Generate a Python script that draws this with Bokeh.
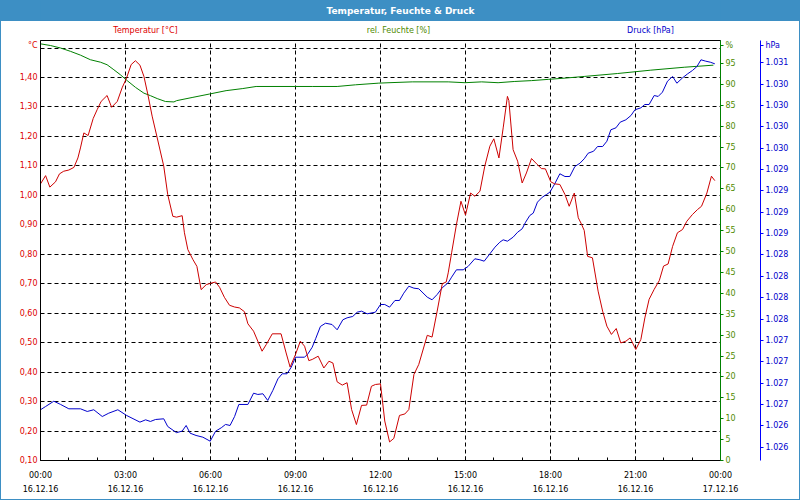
from bokeh.plotting import figure
from bokeh.layouts import column
from bokeh.models import LinearAxis, Range1d, FixedTicker, Label
from bokeh.embed import file_html
from bokeh.resources import INLINE

# ---------------- data ----------------
temp_hours = [0, 0.18, 0.33, 0.53, 0.67, 0.82, 1.0, 1.18, 1.32, 1.41, 1.53, 1.68, 1.86, 2.0, 2.14, 2.35,
              2.51, 2.71, 2.88, 3.04, 3.2, 3.35, 3.51, 3.65, 3.79, 3.94, 4.12, 4.35, 4.49, 4.67, 4.8,
              5.0, 5.08, 5.2, 5.38, 5.52, 5.67, 5.85, 6.02, 6.18, 6.32, 6.49, 6.67, 6.85, 7.02, 7.2,
              7.32, 7.52, 7.67, 7.82, 7.97, 8.18, 8.49, 8.67, 8.81, 9.0, 9.17, 9.32, 9.47,
              9.59, 9.8, 10.0, 10.18, 10.32, 10.47, 10.65, 10.82, 10.98, 11.15, 11.33, 11.51, 11.68,
              11.82, 12.0, 12.15, 12.32, 12.47, 12.67, 12.86, 13.0, 13.18, 13.35, 13.65, 13.82, 14.0,
              14.18, 14.32, 14.39, 14.51, 14.68, 14.84, 15.0, 15.18, 15.33, 15.51, 15.68, 15.86, 16.0,
              16.18, 16.33, 16.48, 16.53, 16.68, 16.84, 17.0, 17.15, 17.33, 17.51, 17.68, 17.82, 18.01,
              18.15, 18.33, 18.51, 18.66, 18.84, 18.98, 19.09, 19.19, 19.31, 19.48, 19.68, 19.84, 19.99,
              20.15, 20.32, 20.48, 20.66, 20.81, 21.01, 21.19, 21.33, 21.48, 21.66, 21.84, 21.99, 22.15,
              22.31, 22.48, 22.66, 22.81, 23.01, 23.19, 23.33, 23.52, 23.68, 23.8]
temp_values = [1.039, 1.067, 1.028, 1.046, 1.073, 1.082, 1.086, 1.095, 1.127, 1.161, 1.212, 1.203, 1.261,
               1.291, 1.319, 1.339, 1.299, 1.319, 1.365, 1.399, 1.444, 1.457, 1.442, 1.404, 1.342, 1.269,
               1.195, 1.099, 1.003, 0.929, 0.926,
               0.931, 0.873, 0.816, 0.782, 0.759, 0.680, 0.697, 0.702, 0.706, 0.688, 0.654, 0.627, 0.621,
               0.618, 0.605, 0.564, 0.539, 0.505, 0.471, 0.494, 0.530, 0.530, 0.465, 0.417, 0.460, 0.505,
               0.488, 0.439,
               0.443, 0.454, 0.414, 0.437, 0.431, 0.367, 0.356, 0.364, 0.273, 0.222, 0.287, 0.288, 0.352,
               0.358, 0.360, 0.234, 0.163, 0.175, 0.253, 0.258, 0.273, 0.392, 0.426, 0.525, 0.519, 0.607,
               0.700, 0.706, 0.737, 0.805, 0.901, 0.980, 0.933, 1.008, 0.997, 1.014, 1.099, 1.167, 1.192,
               1.127, 1.229, 1.336, 1.322, 1.155, 1.116, 1.042, 1.076, 1.125, 1.107, 1.091, 1.090, 1.046,
               1.039, 1.037, 1.003, 0.963, 1.008, 0.924, 0.903, 0.881, 0.793, 0.788, 0.675, 0.607, 0.556,
               0.528, 0.548, 0.499, 0.505, 0.516, 0.477, 0.511, 0.584, 0.647, 0.681, 0.711, 0.760, 0.767,
               0.827, 0.873, 0.884, 0.912, 0.935, 0.952, 0.963, 1.008, 1.065, 1.050]

hum_hours = [0, 0.35, 0.71, 1.06, 1.41, 1.76, 2.12, 2.35, 2.59, 2.82, 3.06, 3.35, 3.65, 3.88, 4.12, 4.41,
             4.71, 4.8, 5.38, 5.97, 6.55, 7.14, 7.61, 9.59, 10.47, 11.12, 11.94, 12.3, 13.12, 14.39,
             14.98, 15.57, 16.15, 16.74, 17.33, 17.92, 18.51, 19.19, 20.37, 21.54, 22.72, 23.75]
hum_values = [99.7, 99.3, 98.7, 97.9, 97.0, 95.9, 95.3, 94.7, 93.5, 92.3, 90.9, 89.3, 87.9, 87.3, 86.6, 85.9,
              85.8, 86.1, 86.9, 87.7, 88.5, 89.0, 89.5, 89.5, 89.5, 89.9, 90.3, 90.4, 90.6, 90.6,
              90.4, 90.6, 90.4, 90.7, 90.9, 91.2, 91.5, 91.9, 92.6, 93.4, 94.1, 94.6]

press_hours = [0, 0.18, 0.47, 0.71, 1.0, 1.41, 1.65, 1.88, 2.18, 2.41, 2.73, 3.04, 3.51, 3.71, 3.88, 4.06,
               4.35, 4.49, 4.8, 5.0, 5.14, 5.28, 5.49, 5.73, 5.99, 6.18, 6.38, 6.53, 6.69, 6.85, 7.0, 7.32,
               7.52, 7.67, 7.85, 8.02, 8.2, 8.38, 8.53, 8.7, 8.85, 9.0, 9.32, 9.44, 9.59, 9.71, 9.88, 10.06,
               10.29, 10.47, 10.67, 10.82, 11.02, 11.18, 11.33, 11.53, 11.82, 12.0, 12.15, 12.32, 12.51,
               12.67, 12.82, 13.0, 13.18, 13.35, 13.65, 13.82, 14.0, 14.18, 14.39, 14.51, 14.68, 14.92,
               15.09, 15.33, 15.51, 15.66, 15.86, 16.04, 16.21, 16.33, 16.48, 16.68, 16.84, 17.0, 17.12,
               17.27, 17.39, 17.54, 17.71, 17.86, 17.98, 18.15, 18.33, 18.51, 18.68, 18.86, 19.04, 19.19,
               19.33, 19.52, 19.66, 19.84, 19.99, 20.13, 20.31, 20.46, 20.66, 20.84, 20.98, 21.19, 21.33,
               21.48, 21.66, 21.8, 21.95, 22.13, 22.31, 22.46, 22.66, 22.84, 23.01, 23.17, 23.31, 23.48,
               23.64, 23.8]
press_values = [1026.438, 1026.476, 1026.538, 1026.500, 1026.449, 1026.449, 1026.418, 1026.438, 1026.359,
                1026.398, 1026.438, 1026.371, 1026.293, 1026.320, 1026.301, 1026.324, 1026.332, 1026.242,
                1026.17, 1026.188, 1026.254, 1026.164, 1026.137, 1026.117, 1026.070, 1026.187, 1026.227,
                1026.266, 1026.254, 1026.359, 1026.500, 1026.500, 1026.632, 1026.617, 1026.625, 1026.547,
                1026.664, 1026.800, 1026.859, 1026.859, 1026.936, 1027.053, 1027.053, 1027.093, 1027.170,
                1027.269, 1027.413, 1027.451, 1027.436, 1027.374, 1027.491, 1027.514, 1027.530, 1027.580,
                1027.592, 1027.561, 1027.580, 1027.670, 1027.670, 1027.639, 1027.717, 1027.717, 1027.802,
                1027.884, 1027.861, 1027.854, 1027.756, 1027.725, 1027.787, 1027.866, 1027.925, 1027.990,
                1028.076, 1028.076, 1028.115, 1028.205, 1028.193, 1028.177, 1028.263, 1028.341, 1028.399,
                1028.427, 1028.411, 1028.458, 1028.516, 1028.556, 1028.633, 1028.712, 1028.739, 1028.868,
                1028.926, 1028.958, 1028.985, 1029.083, 1029.200, 1029.168, 1029.168, 1029.285, 1029.324,
                1029.375, 1029.441, 1029.464, 1029.519, 1029.519, 1029.581, 1029.715, 1029.738, 1029.804,
                1029.832, 1029.882, 1029.949, 1029.972, 1030.011, 1030.011, 1030.116, 1030.105, 1030.155,
                1030.284, 1030.339, 1030.260, 1030.323, 1030.370, 1030.409, 1030.456, 1030.534, 1030.518,
                1030.506, 1030.487]

x_ticks = [0, 3, 6, 9, 12, 15, 18, 21, 24]
x_minor_ticks = [1, 2, 4, 5, 7, 8, 10, 11, 13, 14, 16, 17, 19, 20, 22, 23]
x_tick_labels = ["00:00\n16.12.16", "03:00\n16.12.16", "06:00\n16.12.16", "09:00\n16.12.16",
                 "12:00\n16.12.16", "15:00\n16.12.16", "18:00\n16.12.16", "21:00\n16.12.16",
                 "00:00\n17.12.16"]

temp_grid = [0.1, 0.2, 0.3, 0.4, 0.5, 0.6, 0.7, 0.8, 0.9, 1.0, 1.1, 1.2, 1.3, 1.4, 1.5]
temp_ticks = [0.1, 0.2, 0.3, 0.4, 0.5, 0.6, 0.7, 0.8, 0.9, 1.0, 1.1, 1.2, 1.3, 1.4, 1.51]
temp_tick_labels = ["0,10", "0,20", "0,30", "0,40", "0,50", "0,60", "0,70", "0,80", "0,90", "1,00",
                    "1,10", "1,20", "1,30", "1,40", "°C"]

hum_ticks = [0, 5, 10, 15, 20, 25, 30, 35, 40, 45, 50, 55, 60, 65, 70, 75, 80, 85, 90, 95, 99.35]
hum_tick_labels = ["0", "5", "10", "15", "20", "25", "30", "35", "40", "45", "50", "55", "60", "65",
                   "70", "75", "80", "85", "90", "95", "%"]

press_ticks = [1026.0, 1026.25, 1026.5, 1026.75, 1027.0, 1027.25, 1027.5, 1027.75, 1028.0, 1028.25,
               1028.5, 1028.75, 1029.0, 1029.25, 1029.5, 1029.75, 1030.0, 1030.25, 1030.5, 1030.705]
press_tick_labels = ["1.026", "1.026", "1.027", "1.027", "1.027", "1.027", "1.028", "1.028", "1.028",
                     "1.028", "1.029", "1.029", "1.029", "1.029", "1.030", "1.030", "1.030", "1.030",
                     "1.031", "hPa"]

title_text = "Temperatur, Feuchte & Druck"
series_names = ["Temperatur [°C]", "rel. Feuchte [%]", "Druck [hPa]"]

# ---------------- style ----------------
FONT = "DejaVu Sans"
FS = "8px"
BAND = "#3d8fc4"
RED = "#cc0000"
RED_TXT = "#dd0000"
GREEN = "#008000"
GREEN_TXT = "#4f8a00"
BLUE = "#0000cc"
BLUE_AX = "#0000ff"


def bare(height, yr, fill):
    f = figure(width=800, height=height, output_backend="svg", toolbar_location=None,
               x_range=Range1d(40, 720), y_range=yr,
               x_axis_location=None, y_axis_location=None,
               min_border_left=0, min_border_right=0, min_border_top=0, min_border_bottom=0,
               stylesheets=[":host { background-color: %s; }" % fill])
    f.grid.visible = False
    f.outline_line_color = None
    f.background_fill_color = fill
    f.border_fill_color = fill
    return f


def lab(fig, x, y, text, color, bold=False, size=FS):
    fig.add_layout(Label(x=x, y=y, text=text, text_align="center", text_baseline="middle",
                         text_color=color, text_font=FONT, text_font_size=size,
                         text_font_style="bold" if bold else "normal"))


# title band (page pixels 0..21)
band = bare(21, Range1d(21, 0), BAND)
lab(band, 400, 10.5, title_text, "white", bold=True, size="9px")

# series names row (page pixels 21..40)
names = bare(19, Range1d(40, 21), "white")
lab(names, 145, 30, series_names[0], RED_TXT)
lab(names, 398, 30, series_names[1], GREEN_TXT)
lab(names, 650, 30, series_names[2], BLUE)

# ---------------- main chart ----------------
p = figure(width=800, height=460, output_backend="svg", toolbar_location=None,
           x_range=Range1d(0, 24), y_range=Range1d(0.1, 1.5257),
           min_border_left=40, min_border_right=80, min_border_top=0, min_border_bottom=40)
p.background_fill_color = "white"
p.border_fill_color = "white"
p.outline_line_color = "black"
p.outline_line_width = 1

p.extra_y_ranges = {"hum": Range1d(0, 100.5), "press": Range1d(1025.844, 1030.760)}

for g in (p.xgrid, p.ygrid):
    g.grid_line_color = "black"
    g.grid_line_dash = "4 3"
    g.grid_line_width = 1
    g.grid_line_alpha = 1
p.ygrid.ticker = FixedTicker(ticks=temp_grid)

# x axis
xa = p.xaxis[0]
xa.ticker = FixedTicker(ticks=x_ticks, minor_ticks=x_minor_ticks)
xa.major_label_overrides = {t: l for t, l in zip(x_ticks, x_tick_labels)}
xa.axis_line_color = "black"
xa.major_tick_in = 4
xa.major_tick_out = 0
xa.minor_tick_in = 3
xa.minor_tick_out = 0
xa.major_tick_line_color = "black"
xa.minor_tick_line_color = "black"
xa.major_label_standoff = 10
xa.major_label_text_font = FONT
xa.major_label_text_font_size = FS
xa.major_label_text_color = "black"
xa.major_label_text_line_height = 1.65

# left temperature axis
ya = p.yaxis[0]
ya.ticker = FixedTicker(ticks=temp_ticks, minor_ticks=[])
ya.major_label_overrides = {t: l for t, l in zip(temp_ticks, temp_tick_labels)}
ya.axis_line_color = "black"
ya.major_tick_in = 0
ya.major_tick_out = 0
ya.minor_tick_in = 0
ya.minor_tick_out = 0
ya.major_label_standoff = 3
ya.major_label_text_font = FONT
ya.major_label_text_font_size = FS
ya.major_label_text_color = RED_TXT

# humidity axis
ha = LinearAxis(y_range_name="hum", ticker=FixedTicker(ticks=hum_ticks, minor_ticks=[]))
ha.major_label_overrides = {t: l for t, l in zip(hum_ticks, hum_tick_labels)}
ha.axis_line_color = GREEN
ha.major_tick_line_color = GREEN
ha.major_tick_in = 0
ha.major_tick_out = 3
ha.minor_tick_in = 0
ha.minor_tick_out = 0
ha.major_label_standoff = 2
ha.major_label_text_font = FONT
ha.major_label_text_font_size = FS
ha.major_label_text_color = GREEN_TXT
ha.axis_label = " "
ha.axis_label_text_font_size = "10px"
ha.axis_label_standoff = 8
p.add_layout(ha, "right")

# pressure axis
pa = LinearAxis(y_range_name="press", ticker=FixedTicker(ticks=press_ticks, minor_ticks=[]))
pa.major_label_overrides = {t: l for t, l in zip(press_ticks, press_tick_labels)}
pa.axis_line_color = BLUE_AX
pa.major_tick_line_color = BLUE_AX
pa.major_tick_in = 0
pa.major_tick_out = 3
pa.minor_tick_in = 0
pa.minor_tick_out = 0
pa.major_label_standoff = 2
pa.major_label_text_font = FONT
pa.major_label_text_font_size = FS
pa.major_label_text_color = BLUE
p.add_layout(pa, "right")

# series
p.line(hum_hours, hum_values, y_range_name="hum", line_color=GREEN, line_width=1)
p.line(press_hours, press_values, y_range_name="press", line_color=BLUE, line_width=1)
p.line(temp_hours, temp_values, line_color=RED, line_width=1)

frame_css = (":host { position: relative; }"
             ":host::after { content: ''; position: absolute; left: 0; top: 0; right: 0; bottom: 0;"
             " border: 1px solid #3d8fc4; pointer-events: none; z-index: 1000; }")
layout = column(band, names, p, spacing=0, stylesheets=[frame_css])

open("out.html", "w").write(file_html(layout, INLINE))
